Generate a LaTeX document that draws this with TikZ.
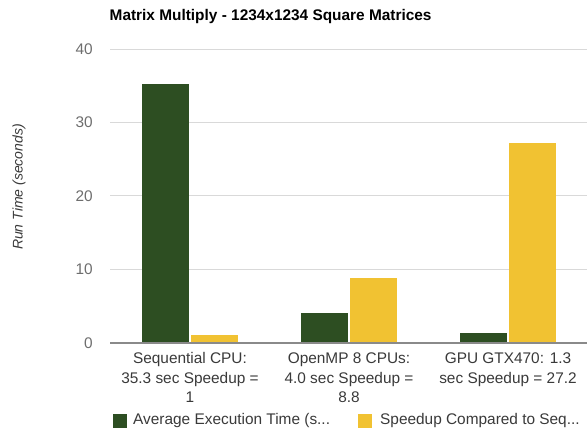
\documentclass[tikz,border=0pt]{standalone}
\usepackage{fontspec}
\setmainfont{Liberation Sans}
\definecolor{timegreen}{HTML}{2D4E22}
\definecolor{speedyellow}{HTML}{F1C232}
\definecolor{gridgray}{HTML}{D9D9D9}
\definecolor{axisgray}{HTML}{8A8A8A}
\definecolor{ticktext}{HTML}{6E6E6E}
\definecolor{labeltext}{HTML}{3A3A3A}
\begin{document}
\begin{tikzpicture}[x=1bp,y=-1bp,
  chartfont/.style={font=\fontsize{15.4bp}{19.5bp}\selectfont},
  ticklabel/.style={chartfont,text=ticktext,anchor=east,inner sep=0pt},
  catlabel/.style={chartfont,text=labeltext,align=center,anchor=base,inner sep=0pt},
  legendtext/.style={chartfont,text=labeltext,anchor=west,inner sep=0pt},
  gridline/.style={draw=gridgray,line width=1bp},
  zeroline/.style={draw=axisgray,line width=1.6bp},
  timebar/.style={fill=timegreen},
  speedbar/.style={fill=speedyellow}]
\useasboundingbox[fill=white] (0,0) rectangle (587,433);

% y scale: value 0 at 342.7, 7.34 px per second
\def\yz{342.7}
\def\ys{7.34}

% title
\node[anchor=base west,inner sep=0pt,font=\fontsize{15.4bp}{18bp}\selectfont\bfseries] (title) at (109.5,20.5) {Matrix Multiply - 1234x1234 Square Matrices};

% axis title
\node[rotate=90,inner sep=0pt,text=labeltext,font=\fontsize{14bp}{16bp}\selectfont\itshape] (ytitle) at (19,187) {Run Time (seconds)};

% grid lines and tick labels
\foreach \v/\nm in {10/ten,20/twenty,30/thirty,40/forty}{
  \coordinate (gl-\nm) at (110,{\yz-\v*\ys});
  \coordinate (gr-\nm) at (587,{\yz-\v*\ys});
  \draw[gridline] (gl-\nm) -- (gr-\nm);
  \node[ticklabel] (tick-\nm) at (93,{\yz-\v*\ys}) {\v};
}
\node[ticklabel] (tick-zero) at (93,\yz) {0};

% bars: group centres at 189.5, 348.5, 507.5
\foreach \c/\t/\s in {189.5/35.3/1, 348.5/4.0/8.8, 507.5/1.3/27.2}{
  \fill[timebar] (\c-48,\yz) rectangle (\c-1,{\yz-\t*\ys});
  \fill[speedbar] (\c+1,\yz) rectangle (\c+48,{\yz-\s*\ys});
}

% baseline
\coordinate (zl) at (110,\yz);
\coordinate (zr) at (587,\yz);
\draw[zeroline] (zl) -- (zr);

% category labels (anchored at the baseline of their last line)
\node[catlabel] (cat-seq) at (190,402.5) {Sequential CPU:\\35.3 sec Speedup =\\1};
\node[catlabel] (cat-omp) at (349,402.5) {OpenMP 8 CPUs:\\4.0 sec Speedup =\\8.8};
\node[catlabel] (cat-gpu) at (508,383) {GPU GTX470: 1.3\\sec Speedup = 27.2};

% legend
\fill[timebar] (113,414) rectangle (127,428);
\node[legendtext] (leg-time) at (133,421) {Average Execution Time (s...};
\fill[speedbar] (358,414) rectangle (372,428);
\node[legendtext] (leg-speed) at (380,421) {Speedup Compared to Seq...};
\end{tikzpicture}
\end{document}
